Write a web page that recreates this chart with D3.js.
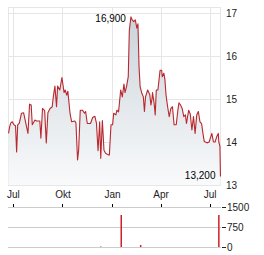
<!DOCTYPE html>
<html><head><meta charset="utf-8">
<script src="https://cdn.jsdelivr.net/npm/d3@7"></script>
<style>html,body{margin:0;padding:0;background:#fff;} svg{display:block;font-family:"Liberation Sans",Arial,sans-serif;}</style>
</head><body><svg id="c" width="264" height="255"></svg>
<script>
const dates = ["2024-06-23","2024-06-25","2024-06-27","2024-06-30","2024-07-03","2024-07-06","2024-07-08","2024-07-10","2024-07-13","2024-07-17",
"2024-07-21","2024-07-25","2024-07-29","2024-08-01","2024-08-04","2024-08-06","2024-08-11","2024-08-14","2024-08-20","2024-08-22",
"2024-08-25","2024-08-29","2024-09-01","2024-09-04","2024-09-08","2024-09-12","2024-09-14","2024-09-17","2024-09-20","2024-09-22",
"2024-09-26","2024-09-30","2024-10-04","2024-10-06","2024-10-09","2024-10-11","2024-10-15","2024-10-18","2024-10-24","2024-10-26",
"2024-10-29","2024-10-31","2024-11-03","2024-11-07","2024-11-11","2024-11-13","2024-11-16","2024-11-22","2024-11-26","2024-11-30",
"2024-12-03","2024-12-06","2024-12-09","2024-12-11","2024-12-14","2024-12-17","2024-12-20","2024-12-25","2024-12-27","2024-12-30",
"2025-01-02","2025-01-04","2025-01-08","2025-01-10","2025-01-13","2025-01-17","2025-01-20","2025-01-23","2025-01-25","2025-01-28",
"2025-01-31","2025-02-02","2025-02-05","2025-02-07","2025-02-10","2025-02-13","2025-02-16","2025-02-18","2025-02-20","2025-02-22",
"2025-02-25","2025-02-28","2025-03-02","2025-03-04","2025-03-08","2025-03-12","2025-03-14","2025-03-16","2025-03-17","2025-03-20",
"2025-03-22","2025-03-24","2025-03-27","2025-03-31","2025-04-03","2025-04-04","2025-04-07","2025-04-09","2025-04-11","2025-04-14",
"2025-04-17","2025-04-20","2025-04-23","2025-04-26","2025-04-30","2025-05-03","2025-05-05","2025-05-08","2025-05-11","2025-05-14",
"2025-05-17","2025-05-19","2025-05-23","2025-05-26","2025-05-29","2025-06-01","2025-06-04","2025-06-07","2025-06-10","2025-06-13",
"2025-06-16","2025-06-19","2025-06-21","2025-06-26","2025-06-30","2025-07-05","2025-07-08","2025-07-11","2025-07-14","2025-07-17",
"2025-07-18","2025-07-20","2025-07-21"];
const prices = [14.20,14.35,14.44,14.47,14.40,14.38,13.77,14.40,14.44,14.67,
14.68,14.44,14.20,14.88,14.86,14.40,14.51,14.49,14.49,14.09,
14.78,14.73,13.98,14.68,14.78,14.82,15.05,15.30,14.82,15.30,
15.21,15.50,15.15,15.21,15.09,15.18,14.67,14.47,14.49,14.44,
13.58,13.81,14.74,14.74,14.67,14.71,14.43,14.43,14.57,14.60,
14.44,13.80,14.47,13.62,14.50,13.81,13.74,13.70,13.70,14.40,
14.40,14.67,14.63,14.74,14.70,15.21,15.05,15.35,15.15,15.30,
15.52,16.60,16.91,16.85,16.80,16.84,16.65,16.75,15.75,15.29,
15.14,15.05,14.71,15.05,15.21,15.10,14.86,15.00,15.15,14.90,
14.63,15.21,15.21,15.67,15.67,15.52,15.60,15.45,15.10,14.82,
14.59,14.78,14.82,14.40,14.40,14.74,14.91,14.86,14.78,14.59,
14.63,14.43,14.74,14.65,14.28,14.59,14.20,14.63,14.71,14.47,
14.43,14.16,14.01,13.98,14.00,14.20,14.00,14.00,14.12,14.20,
14.00,13.90,13.20];
const volDates = ["2024-12-11","2025-01-18","2025-02-23","2025-07-18"];
const volValues = [20,1200,75,1200];
const volUp = [true,false,false,false];
const xTickDates = ["2024-07-01","2024-10-01","2025-01-01","2025-04-01","2025-07-01"];
const xTickLabels = ["Jul","Okt","Jan","Apr","Jul"];
const yTicks = [13,14,15,16,17];
const volTicks = [0,750,1500];
const maxLabel = "16,900", minLabel = "13,200";

const parse = d3.timeParse("%Y-%m-%d");
const data = dates.map((d,i)=>({date:parse(d), v:prices[i]}));
const svg = d3.select("#c");
const L=8, R=221, T=7, B=185, VT=207, VB=247;
const x = d3.scaleTime().domain([parse("2024-06-22"), parse("2025-07-22")]).range([L,R]);
const y = d3.scaleLinear().domain([13, 17.14]).range([B,T]);
const yv = d3.scaleLinear().domain([0,1500]).range([VB,VT]);
const grid = "#e6e6e6";

const defs = svg.append("defs");
const g = defs.append("linearGradient").attr("id","fillg").attr("x1",0).attr("y1",0).attr("x2",0).attr("y2",1);
g.append("stop").attr("offset","0%").attr("stop-color","#cbd4db");
g.append("stop").attr("offset","100%").attr("stop-color","#f9fafb");

svg.append("rect").attr("x",L+0.5).attr("y",T+0.5).attr("width",R-L-1).attr("height",B-T).attr("fill","none").attr("stroke",grid);
svg.append("g").selectAll("line").data(yTicks).join("line")
  .attr("x1",L).attr("x2",R).attr("y1",d=>Math.round(y(d))+0.5).attr("y2",d=>Math.round(y(d))+0.5)
  .attr("stroke",grid);
svg.append("g").selectAll("line").data(xTickDates).join("line")
  .attr("x1",d=>Math.round(x(parse(d)))+0.5).attr("x2",d=>Math.round(x(parse(d)))+0.5)
  .attr("y1",T).attr("y2",B).attr("stroke",grid);

const area = d3.area().x(d=>x(d.date)).y0(B).y1(d=>y(d.v));
svg.append("path").datum(data).attr("d",area).attr("fill","url(#fillg)");
const line = d3.line().x(d=>x(d.date)).y(d=>y(d.v));
svg.append("path").datum(data).attr("d",line).attr("fill","none").attr("stroke","#b8282e").attr("stroke-width",1.1).attr("stroke-linejoin","round");

const yAxis = d3.axisRight(y).tickValues(yTicks).tickSize(0).tickPadding(5).tickFormat(d3.format("d"));
const ya = svg.append("g").attr("transform",`translate(${R},0)`).call(yAxis);
ya.select(".domain").remove();
ya.selectAll("text").attr("font-size",10).attr("fill","#222").attr("font-family","Liberation Sans, Arial, sans-serif");

const xAxis = d3.axisBottom(x).tickValues(xTickDates.map(parse)).tickSize(0).tickPadding(0).tickFormat((d,i)=>xTickLabels[i]);
const xa = svg.append("g").attr("transform",`translate(0,${B+13})`).call(xAxis);
xa.select(".domain").remove();
xa.selectAll("text").attr("font-size",10).attr("fill","#222").attr("dy","0").attr("font-family","Liberation Sans, Arial, sans-serif");

const maxI = d3.maxIndex(data,d=>d.v), minI = d3.minIndex(data,d=>d.v);
svg.append("text").attr("x",x(data[maxI].date)-5).attr("y",y(data[maxI].v)+5).attr("text-anchor","end")
  .attr("font-size",10).attr("fill","#000").text(maxLabel);
svg.append("text").attr("x",x(data[minI].date)-5).attr("y",y(data[minI].v)+3).attr("text-anchor","end")
  .attr("font-size",10).attr("fill","#000").text(minLabel);

svg.append("g").selectAll("line").data(volTicks).join("line")
  .attr("x1",L).attr("x2",R).attr("y1",d=>Math.round(yv(d))+0.5).attr("y2",d=>Math.round(yv(d))+0.5)
  .attr("stroke","#cccccc");
svg.append("g").selectAll("line").data(xTickDates).join("line")
  .attr("x1",d=>Math.round(x(parse(d)))+0.5).attr("x2",d=>Math.round(x(parse(d)))+0.5)
  .attr("y1",VT-3).attr("y2",VT).attr("stroke","#000");
const vAxis = d3.axisRight(yv).tickValues(volTicks).tickSize(4).tickPadding(1).tickFormat(d3.format("d"));
const va = svg.append("g").attr("transform",`translate(${R+1},0)`).call(vAxis);
va.select(".domain").remove();
va.selectAll("line").attr("stroke","#222");
va.selectAll("text").attr("font-size",10).attr("fill","#222").attr("font-family","Liberation Sans, Arial, sans-serif");
svg.append("g").selectAll("rect").data(volDates).join("rect")
  .attr("x",d=>x(parse(d))-0.75).attr("width",1.5)
  .attr("y",(d,i)=>yv(volValues[i])).attr("height",(d,i)=>VB-yv(volValues[i]))
  .attr("fill",(d,i)=>volUp[i]?"#2e8b2e":"#d0202a");
</script></body></html>
